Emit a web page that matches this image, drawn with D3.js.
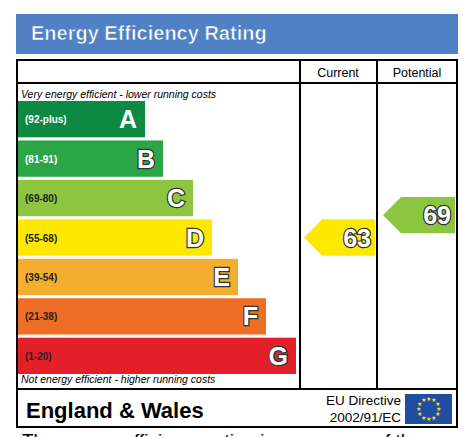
<!DOCTYPE html>
<html><head><meta charset="utf-8">
<script src="https://cdn.jsdelivr.net/npm/d3@7"></script>
<style>body{margin:0;background:#fff;overflow:hidden}</style>
</head><body>
<script>
const bands = ['A', 'B', 'C', 'D', 'E', 'F', 'G'];
const ranges = ['(92-plus)', '(81-91)', '(69-80)', '(55-68)', '(39-54)', '(21-38)', '(1-20)'];
const bandMin = [92, 81, 69, 55, 39, 21, 1];
const bandColours = ['#0c8a44', '#2aa646', '#8cc63e', '#fde800', '#f4ad2f', '#ee6e25', '#e3202a'];
const bandWidths = [127, 145, 175, 194, 220, 248, 278];
const currentRating = 63;
const potentialRating = 69;

const svg = d3.select('body').append('svg').attr('width', 463).attr('height', 437)
    .style('font-family', 'Liberation Sans, Arial, sans-serif');

svg.append('rect').attr('x', 16).attr('y', 14).attr('width', 442).attr('height', 40).attr('fill', '#4f81c4');
svg.append('text').attr('x', 31).attr('y', 40).attr('fill', '#fff').attr('font-size', 20).attr('font-weight', 'bold')
    .attr('stroke', '#4f81c4').attr('stroke-width', 0.6).text('Energy Efficiency Rating');

const g = svg.append('g').attr('fill', 'none').attr('stroke', '#000').attr('stroke-width', 2);
g.append('rect').attr('x', 17).attr('y', 60).attr('width', 440).attr('height', 367);
g.append('line').attr('x1', 17).attr('x2', 457).attr('y1', 83).attr('y2', 83);
g.append('line').attr('x1', 17).attr('x2', 457).attr('y1', 389).attr('y2', 389);
g.append('line').attr('x1', 300).attr('x2', 300).attr('y1', 60).attr('y2', 389);
g.append('line').attr('x1', 377).attr('x2', 377).attr('y1', 60).attr('y2', 389);

svg.append('text').attr('x', 338).attr('y', 77).attr('text-anchor', 'middle').attr('font-size', 12.5).text('Current');
svg.append('text').attr('x', 417).attr('y', 77).attr('text-anchor', 'middle').attr('font-size', 12.5).text('Potential');

svg.append('text').attr('x', 21).attr('y', 98).attr('font-size', 10.5).attr('font-style', 'italic').text('Very energy efficient - lower running costs');
svg.append('text').attr('x', 21).attr('y', 383).attr('font-size', 10.5).attr('font-style', 'italic').text('Not energy efficient - higher running costs');

const y = d3.scaleBand().domain(bands).range([101, 374]).paddingInner(0.08);
const x = d3.scaleLinear().domain([0, 1]).range([18, 19]);

const rows = svg.selectAll('g.band').data(bands).enter().append('g').attr('class', 'band');
rows.append('rect').attr('x', x(0)).attr('y', d => y(d)).attr('height', y.bandwidth())
    .attr('width', (d, i) => bandWidths[i]).attr('fill', (d, i) => bandColours[i]);
rows.append('text').attr('x', 25).attr('y', d => y(d) + y.bandwidth() / 2 + 4).attr('font-size', 10).attr('font-weight', 'bold')
    .attr('fill', (d, i) => i < 2 ? '#fff' : '#222').text((d, i) => ranges[i]);
rows.append('text').attr('x', (d, i) => x(0) + bandWidths[i] - 8).attr('y', d => y(d) + y.bandwidth() / 2 + 9)
    .attr('text-anchor', 'end').attr('font-size', 25).attr('font-weight', 'bold')
    .attr('fill', '#fff').attr('stroke', (d, i) => i === 0 ? 'none' : '#333').attr('stroke-width', 2.5)
    .attr('paint-order', 'stroke').text(d => d);

const bandOf = v => bandMin.findIndex(m => v >= m);
const arrow = (x0, x1, yTop, h, v) => {
    const i = bandOf(v);
    const pts = [[x0, yTop + h / 2], [x0 + h / 2, yTop], [x1, yTop], [x1, yTop + h], [x0 + h / 2, yTop + h]];
    svg.append('polygon').attr('points', pts.map(p => p.join(',')).join(' ')).attr('fill', bandColours[i]);
    svg.append('text').attr('x', x1 - 4).attr('y', yTop + h / 2 + 9).attr('text-anchor', 'end').attr('font-size', 25)
        .attr('font-weight', 'bold').attr('fill', '#fff').attr('stroke', '#333').attr('stroke-width', 2.5)
        .attr('paint-order', 'stroke').text(v);
};
arrow(304, 375, y('D'), y.bandwidth(), currentRating);
arrow(383, 455, 197, y.bandwidth(), potentialRating);

svg.append('text').attr('x', 26).attr('y', 418).attr('font-size', 22).attr('font-weight', 'bold').text('England & Wales');
svg.append('text').attr('x', 401).attr('y', 405).attr('text-anchor', 'end').attr('font-size', 13.5).text('EU Directive');
svg.append('text').attr('x', 401).attr('y', 422).attr('text-anchor', 'end').attr('font-size', 13.5).text('2002/91/EC');
svg.append('rect').attr('x', 405).attr('y', 394).attr('width', 47).attr('height', 30).attr('fill', '#1f4ea0');
const stars = d3.range(12).map(k => k * Math.PI / 6);
svg.selectAll('text.star').data(stars).enter().append('text').attr('class', 'star')
    .attr('x', a => 428.5 + 10 * Math.cos(a)).attr('y', a => 409 + 10 * Math.sin(a) + 2)
    .attr('text-anchor', 'middle').attr('font-size', 6).attr('fill', '#ffdd00').text('★');
svg.append('text').attr('x', 22).attr('y', 447).attr('font-size', 19).text('The energy efficiency rating is a measure of the');
</script>
</body></html>
